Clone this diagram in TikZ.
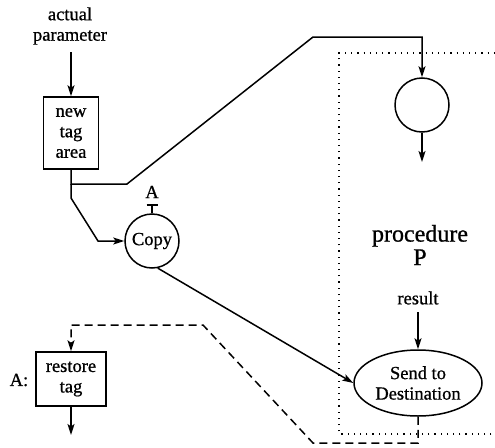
\documentclass[tikz,border=0pt]{standalone}
\usepackage{fontspec}
\setmainfont{Liberation Serif}[FakeBold=0.8]
\usetikzlibrary{arrows.meta,shapes.geometric}
\begin{document}
\begin{tikzpicture}[x=1pt,y=-1pt,
  line width=1.5pt,
  tip/.style={-{Stealth[length=11pt,width=7pt,inset=2.5pt]}},
  lbl/.style={font=\fontsize{18.5}{20.5}\selectfont, align=center, inner sep=0pt},
  bigl/.style={font=\fontsize{24}{23.5}\selectfont, align=center, inner sep=0pt},
  tagbox/.style={draw, lbl},
  flow/.style={dashed, dash pattern=on 8pt off 5pt},
  region/.style={line width=1.2pt, dash pattern=on 1.2pt off 5pt}
]
\useasboundingbox (0,0) rectangle (495,447);

% procedure boundary
\draw[region] (510,434) -- (339,434) -- (339,53) -- (510,53);

% nodes
\node[lbl] (actual) at (70,26) {actual\\parameter};
\node[tagbox, minimum width=55pt, minimum height=72pt] (newtag) at (71,133) {new\\tag\\area};
\node[circle, draw, lbl, minimum size=54pt] (copy) at (152,241) {Copy};
\node[lbl] (alab) at (152,192) {A};
\node[circle, draw, minimum size=54pt] (pcirc) at (422,105) {};
\node[bigl] (proc) at (420,245) {procedure\\P};
\node[lbl] (result) at (418,298) {result};
\node[ellipse, draw, lbl, minimum width=128pt, minimum height=66pt] (send) at (418,383) {Send to\\Destination};
\node[tagbox, minimum width=70pt, minimum height=54pt] (restore) at (71,379) {restore\\tag};
\node[lbl] (rlab) at (19,380) {A:};

% route points
\coordinate (ain) at (71,52);
\coordinate (s1) at (71,184);
\coordinate (s2) at (127,184);
\coordinate (s3) at (313,37);
\coordinate (s4) at (422,37);
\coordinate (c1) at (71,198);
\coordinate (c2) at (98,241);
\coordinate (tb) at (152,204);
\coordinate (pout) at (422,162);
\coordinate (rin) at (418,312);
\coordinate (d1) at (418,443);
\coordinate (d2) at (313,443);
\coordinate (d3) at (203,325);
\coordinate (d4) at (71,325);
\coordinate (rout) at (71,435);

% connectors
\draw[tip] (ain) -- (newtag.north);
\draw[tip] (newtag.south) -- (s1) -- (s2) -- (s3) -- (s4) -- (pcirc.north);
\draw[tip] (s1) -- (c1) -- (c2) -- (copy.west);
\draw[-{Bar[width=11pt]}] (copy.north) -- (tb);
\draw[tip] (pcirc.south) -- (pout);
\draw[tip] (copy.-78) -- (send.west);
\draw[tip] (rin) -- (send.north);
\draw[flow, tip] (send.south) -- (d1) -- (d2) -- (d3) -- (d4) -- (restore.north);
\draw[tip] (restore.south) -- (rout);
\end{tikzpicture}
\end{document}
